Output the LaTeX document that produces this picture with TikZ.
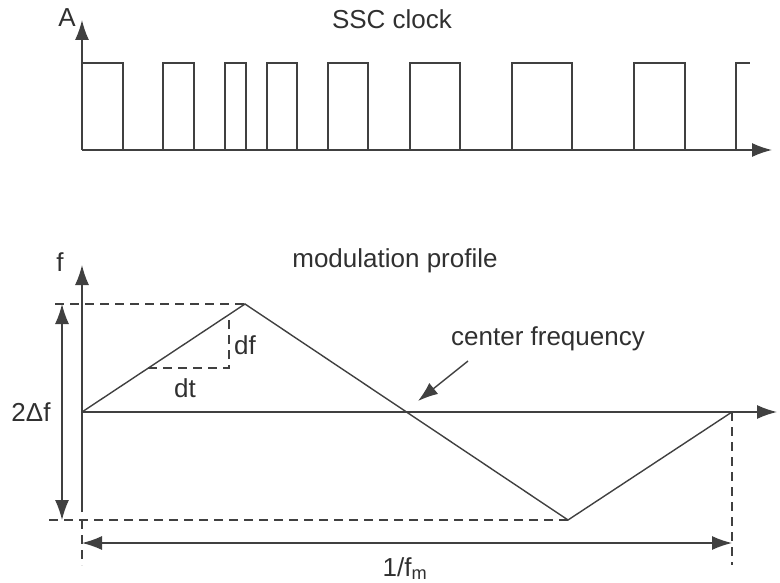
\documentclass[tikz,border=0pt]{standalone}
\usepackage{fontspec}
\setmainfont{Liberation Sans}
\usetikzlibrary{arrows.meta}
\definecolor{linegray}{HTML}{404040}
\definecolor{textgray}{HTML}{303030}
\tikzset{
  tip/.tip={Latex[length=20pt,width=14pt]},
  axis/.style={-tip, line width=1.5pt, draw=linegray},
  curve/.style={line width=1.4pt, draw=linegray},
  guide/.style={line width=1.4pt, draw=linegray, dash pattern=on 9pt off 6pt},
  dim/.style={tip-tip, line width=1.4pt, draw=linegray},
  lbl/.style={text=textgray, font=\fontsize{26}{30}\selectfont, inner sep=0pt, anchor=base},
}
\begin{document}
\begin{tikzpicture}[x=1pt,y=-1pt] %coordinates in pixels, y downwards
	\useasboundingbox (0,0) rectangle (780,583);
		%SSC clock
	\draw[axis] (82,150) -- (82,20); %amplitude axis
	\draw[axis] (82,150) -- (772,150); %time axis
	\foreach \a/\b in {82/123, 163/194, 225/246, 267/297, 328/368, 410/460, 512/572, 634/685}
		\draw[curve] (\a,150) -- (\a,63) -- (\b,63) -- (\b,150); %pulses
	\draw[curve] (736,150) -- (736,63) -- (750,63); %last pulse
	\node[lbl] (amp) at (67,27) {A};
	\node[lbl] (title1) at (392,29) {SSC clock};
		%Modulation profile
	\coordinate (O) at (82,412);
	\coordinate (P) at (245,304);
	\coordinate (V) at (568,520);
	\coordinate (E) at (732,412);
	\draw[axis] (82,512) -- (82,265); %frequency axis
	\draw[axis] (O) -- (777,412); %time axis
	\draw[curve] (O) -- (P) -- (V) -- (E); %triangle profile
		%Guides
	\draw[guide] (55,304) -- (P);
	\draw[guide] (49,520) -- (V);
	\draw[guide] (82,520) -- (82,565);
	\draw[guide] (E) -- (732,565);
	\draw[guide] (148,368) -- (229,368) -- (229,320); %dt and df
		%Dimensions
	\draw[dim] (62,304) -- (62,520);
	\draw[dim] (82,543) -- (732,543);
	\coordinate (cfstart) at (468,361);
	\coordinate (cfend) at (418,401);
	\draw[curve, -tip] (cfstart) -- (cfend);
		%Labels
	\node[lbl] (freq) at (60,271) {f};
	\node[lbl] (title2) at (395,268) {modulation profile};
	\node[lbl] (df) at (245,354) {df};
	\node[lbl] (dt) at (185,397) {dt};
	\node[lbl] (span) at (31,421) {2Δf};
	\node[lbl] (cf) at (548,345) {center frequency};
	\node[lbl] (period) at (405,576) {1/f\textsubscript{m}};
\end{tikzpicture}
\end{document}
